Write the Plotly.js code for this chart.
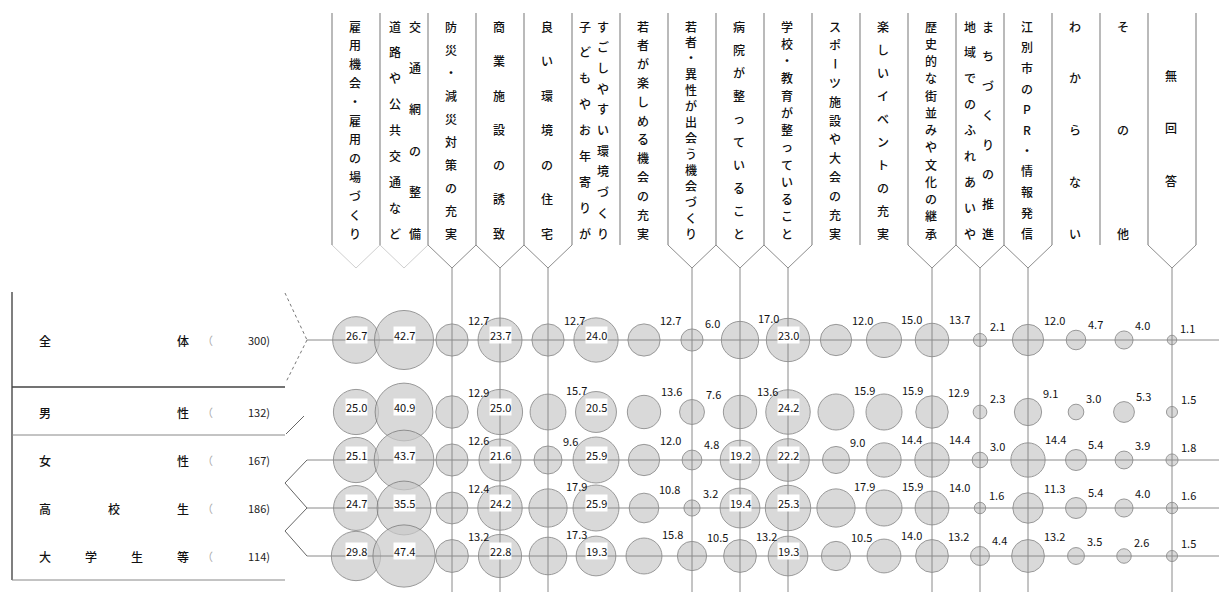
<!DOCTYPE html>
<html><head><meta charset="utf-8">
<script src="https://cdn.plot.ly/plotly-3.0.1.min.js"></script>
<style>body{margin:0;background:#fff}#chart{width:1219px;height:608px}</style>
</head><body><div id="chart"></div>
<script>
// ---- data ----
const categories = [
  "雇用機会・雇用の場づくり",
  "道路や公共交通など\n交通網の整備",
  "防災・減災対策の充実",
  "商業施設の誘致",
  "良い環境の住宅",
  "子どもやお年寄りが\nすごしやすい環境づくり",
  "若者が楽しめる機会の充実",
  "若者・異性が出会う機会づくり",
  "病院が整っていること",
  "学校・教育が整っていること",
  "スポーツ施設や大会の充実",
  "楽しいイベントの充実",
  "歴史的な街並みや文化の継承",
  "地域でのふれあいや\nまちづくりの推進",
  "江別市のPR・情報発信",
  "わからない",
  "その他",
  "無回答"
];
const groups = ["全体", "男性", "女性", "高校生", "大学生等"];
const groupN = [300, 132, 167, 186, 114];
const valAll    = [26.7, 42.7, 12.7, 23.7, 12.7, 24.0, 12.7, 6.0, 17.0, 23.0, 12.0, 15.0, 13.7, 2.1, 12.0, 4.7, 4.0, 1.1];
const valMale   = [25.0, 40.9, 12.9, 25.0, 15.7, 20.5, 13.6, 7.6, 13.6, 24.2, 15.9, 15.9, 12.9, 2.3, 9.1, 3.0, 5.3, 1.5];
const valFemale = [25.1, 43.7, 12.6, 21.6, 9.6, 25.9, 12.0, 4.8, 19.2, 22.2, 9.0, 14.4, 14.4, 3.0, 14.4, 5.4, 3.9, 1.8];
const valHigh   = [24.7, 35.5, 12.4, 24.2, 17.9, 25.9, 10.8, 3.2, 19.4, 25.3, 17.9, 15.9, 14.0, 1.6, 11.3, 5.4, 4.0, 1.6];
const valUniv   = [29.8, 47.4, 13.2, 22.8, 17.3, 19.3, 15.8, 10.5, 13.2, 19.3, 10.5, 14.0, 13.2, 4.4, 13.2, 3.5, 2.6, 1.5];
const seriesValues = [valAll, valMale, valFemale, valHigh, valUniv];

// ---- layout helpers ----
const W = 1219, H = 608, PX = 48, X0 = 356, Y0 = 340;
const xd = px => (px - X0) / PX;
const yd = py => (py - Y0) / PX;
const rowPos = [0, 1.5, 2.5, 3.5, 4.5];
const gridCols = [2, 3, 4, 7, 8, 9, 12, 13, 14, 17];
const faintV = [0, 1];
const SIZEREF = 0.0245;
const diam = v => Math.sqrt(2 * v / SIZEREF);
const FONT = "Noto Sans CJK JP, sans-serif";

const idx = categories.map((_, i) => i);
const traces = seriesValues.map((vals, r) => ({
  type: "scatter", mode: "markers",
  x: idx, y: idx.map(() => rowPos[r]),
  marker: { size: vals, sizemode: "area", sizeref: SIZEREF,
            color: "#cacaca", line: { color: "#6e6e6e", width: 1 } },
  hoverinfo: "skip", showlegend: false
}));

const shapes = [];
const annotations = [];
const line = (x0, y0, x1, y1, color, width, dash, layer) =>
  shapes.push({ type: "line", xref: "x", yref: "y", x0, y0, x1, y1,
                line: { color, width: width || 1, dash: dash || "solid" }, layer: layer || "above" });

// horizontal row lines (not for 男性)
[0, 2, 3, 4].forEach(r => line(xd(307), rowPos[r], xd(W), rowPos[r], "#8a8a8a", 1));
// vertical grid lines
gridCols.forEach(c => line(c, yd(268), c, yd(592), "#8a8a8a", 1));

// header columns
for (let i = 0; i <= categories.length; i++) {
  line(i - 0.5, yd(13), i - 0.5, yd(245), "#8c8c8c", 1.2, "solid", "below");
}
categories.forEach((_, i) => {
  const isV = gridCols.includes(i), isF = faintV.includes(i);
  if (!isV && !isF) return;
  const col = isV ? "#8c8c8c" : "#cfcfcf";
  line(i - 0.5, yd(245), i, yd(268), col, 1, "solid", "below");
  line(i, yd(268), i + 0.5, yd(245), col, 1, "solid", "below");
});

// header text (vertical, one glyph per annotation)
function vText(str, col, xshift, top, bottom) {
  const chars = Array.from(str);
  const n = chars.length;
  chars.forEach((ch, k) => {
    const py = n === 1 ? (top + bottom) / 2 : top + (bottom - top) * k / (n - 1);
    annotations.push({
      xref: "x", yref: "y", x: col, y: yd(py), xshift, text: ch,
      showarrow: false, textangle: (ch === "ー") ? 90 : 0,
      font: { family: FONT, size: 12, color: "#111", weight: 500 },
      xanchor: "center", yanchor: "middle"
    });
  });
}
const twoLineShift = { 1: [-9, 11], 5: [-11, 7], 13: [-10, 8] };
categories.forEach((c, i) => {
  const parts = c.split("\n");
  const top = (i === 17) ? 75 : 26;
  const bottom = (i === 17) ? 180 : 233;
  if (parts.length === 2) {
    vText(parts[0], i, twoLineShift[i][0], top, bottom);
    vText(parts[1], i, twoLineShift[i][1], top, bottom);
  } else {
    vText(parts[0], i, -1, top, bottom);
  }
});

// value labels
seriesValues.forEach((vals, r) => {
  vals.forEach((v, i) => {
    const rad = diam(v) / 2;
    const txt = v.toFixed(1);
    if (v >= 19) {
      annotations.push({ xref: "x", yref: "y", x: i, y: rowPos[r], yshift: 5, text: txt,
        showarrow: false, bgcolor: "#ffffff", borderpad: 0,
        font: { family: FONT, size: 11, color: "#111" } });
    } else {
      annotations.push({ xref: "x", yref: "y", x: i, y: rowPos[r],
        xshift: 0.7 * rad + 3, yshift: 0.7 * rad + 9, text: txt,
        xanchor: "left", yanchor: "middle", showarrow: false,
        font: { family: FONT, size: 11, color: "#111" } });
    }
  });
});

// left row label box
line(xd(12), yd(292), xd(12), yd(580), "#555", 1.5);
line(xd(12), yd(387), xd(285), yd(387), "#444", 1.5);
line(xd(12), yd(435), xd(285), yd(435), "#888", 1);
line(xd(12), yd(580), xd(285), yd(580), "#888", 1);
// chevrons
line(xd(285), yd(293), xd(307), rowPos[0], "#777", 1, "dot");
line(xd(307), rowPos[0], xd(286), yd(382), "#777", 1, "dot");
line(xd(286), yd(434), xd(304), yd(416), "#666", 1);
line(xd(307), rowPos[2], xd(285), yd(483), "#666", 1);
line(xd(285), yd(483), xd(307), rowPos[3], "#666", 1);
line(xd(307), rowPos[3], xd(285), yd(531), "#666", 1);
line(xd(285), yd(531), xd(307), rowPos[4], "#666", 1);

groups.forEach((g, r) => {
  const chars = Array.from(g);
  const n = chars.length;
  chars.forEach((ch, k) => {
    const px = 45 + (183 - 45) * k / (n - 1);
    annotations.push({ xref: "x", yref: "y", x: xd(px), y: rowPos[r], text: ch,
      showarrow: false, font: { family: FONT, size: 12, color: "#111", weight: 500 } });
  });
  annotations.push({ xref: "x", yref: "y", x: xd(207), y: rowPos[r], text: "（",
    showarrow: false, font: { family: FONT, size: 11, color: "#aaa" } });
  annotations.push({ xref: "x", yref: "y", x: xd(272), y: rowPos[r], text: groupN[r] + ")",
    xanchor: "right", showarrow: false, font: { family: FONT, size: 11, color: "#222" } });
});

const layout = {
  width: W, height: H, margin: { l: 0, r: 0, t: 0, b: 0 },
  paper_bgcolor: "#ffffff", plot_bgcolor: "#ffffff",
  xaxis: { range: [xd(0), xd(W)], visible: false, fixedrange: true },
  yaxis: { range: [yd(H), yd(0)], visible: false, fixedrange: true },
  shapes, annotations, showlegend: false
};
Plotly.newPlot("chart", traces, layout, { staticPlot: true });
</script></body></html>
